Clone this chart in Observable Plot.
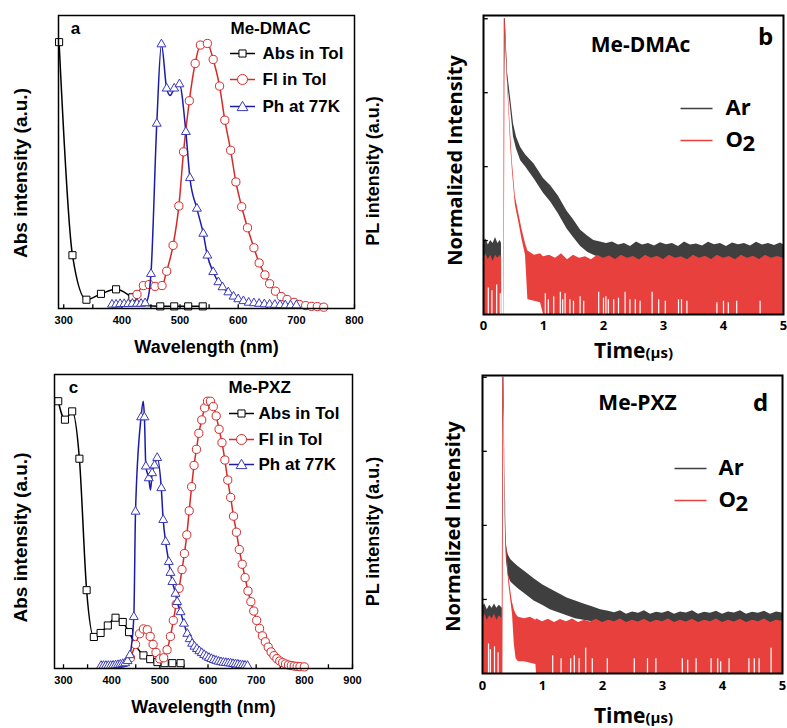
<!DOCTYPE html>
<html><head><meta charset="utf-8">
<script src="https://cdn.jsdelivr.net/npm/d3@7"></script>
<script src="https://cdn.jsdelivr.net/npm/@observablehq/plot@0.6"></script>
<style>
body{margin:0;background:#fff}
#fig{position:relative;width:787px;height:728px;overflow:hidden;background:#fff}
#fig svg{position:absolute}
</style>
</head><body><div id="fig"></div>
<script>
// ---------- Panel a (Me-DMAC) spectra: [nm, intensity, marker? (0 = line only)]
const absA = [[292,1.0],[315,0.2],[339,0.033],[364,0.055],[390,0.072],[418,0.042],[440,0.012,0],[466,0.008],[490,0.008],[514,0.008],[539,0.008]];
const flA = [[426,0.053],[437,0.086],[447,0.09],[457,0.083],[469,0.086],[477,0.14],[488,0.237],[498,0.385],[506,0.588],[516,0.78],[526,0.92],[535,0.989],[547,0.995],[557,0.935],[568,0.835],[577,0.707],[587,0.594],[596,0.475],[606,0.382],[616,0.303],[627,0.228],[636,0.171],[646,0.126],[654,0.093],[664,0.065],[674,0.045],[684,0.034],[696,0.023],[705,0.015],[716,0.011],[726,0.008],[736,0.007],[747,0.005]];
const phA = [[383,0.015],[390,0.015],[397,0.017],[404,0.017],[411,0.017],[418,0.018],[426,0.018],[433,0.018],[440,0.02],[445,0.04,0],[450,0.13],[460,0.694],[468,0.992],[477,0.826],[483,0.8,0],[490,0.826],[499,0.842],[510,0.663],[517,0.49],[529,0.375],[540,0.281],[547,0.199],[557,0.137],[566,0.099],[573,0.08],[583,0.061],[592,0.045],[600,0.035],[609,0.028],[618,0.022],[627,0.02],[636,0.018],[645,0.016],[654,0.015],[663,0.014],[672,0.013],[681,0.012],[690,0.012],[700,0.012]];

// ---------- Panel c (Me-PXZ) spectra
const absC = [[289,1.0],[303,0.931],[318,0.962],[333,0.785],[348,0.293],[363,0.118],[377,0.133],[392,0.161],[408,0.19],[423,0.174],[436,0.136],[452,0.08,0],[466,0.049],[480,0.035],[495,0.024],[510,0.02],[526,0.02],[543,0.02]];
const flC = [[439,0.04],[449.5,0.09],[458,0.13],[466,0.148],[474,0.145],[480,0.12],[486,0.09],[492,0.06],[500,0.036],[508,0.04],[515,0.07],[522,0.12],[528,0.18],[534,0.24],[540,0.3],[546,0.37],[551,0.43],[556,0.5],[561,0.59],[566,0.68],[571,0.76],[576,0.82],[581,0.88],[587,0.93],[593,0.975],[599,1.0],[605,1.0],[611,0.98],[617,0.945],[623,0.895],[629,0.845],[635,0.78],[641,0.705],[647,0.64],[653,0.57],[659,0.51],[665,0.445],[671,0.39],[677,0.34],[683,0.29],[689,0.25],[695,0.215],[701,0.18],[707,0.15],[713,0.122],[719,0.1],[725,0.08],[731,0.062],[737,0.048],[743,0.037],[749,0.028],[755,0.022],[761,0.017],[767,0.013],[773,0.011],[779,0.009],[785,0.008],[791,0.007],[800,0.006]];
const phC = [[378,0.01],[383,0.01],[388,0.01],[393,0.01],[398,0.01],[403,0.011],[408,0.012],[413,0.013],[418,0.015],[423,0.017],[428,0.02],[433,0.028],[438,0.05],[446,0.193],[449.5,0.587],[461,0.94],[465.5,1.0,0],[468,0.94],[471,0.756],[477,0.712],[480.6,0.668,0],[484,0.731],[489,0.76],[494.5,0.788],[503,0.675],[507,0.556],[512,0.474],[518.6,0.399],[522,0.358],[526,0.324],[532.5,0.28],[536,0.249],[543,0.211],[550,0.168],[557,0.13],[562,0.11],[567,0.093],[572,0.082],[577,0.073],[582,0.065],[587,0.058],[592,0.051],[597,0.045],[602,0.04],[607,0.036],[612,0.032],[617,0.029],[622,0.026],[627,0.024],[632,0.022],[637,0.021],[642,0.02],[647,0.019],[652,0.017],[657,0.016],[662,0.015],[667,0.013],[672,0.012],[677,0.011],[682,0.01]];

// ---------- Panel b (Me-DMAc) decay envelopes: [time µs, low, high]
const arB = [[0,0.17,0.245],[0.04,0.17,0.255],[0.08,0.17,0.235],[0.12,0.17,0.25],[0.16,0.17,0.24],[0.2,0.17,0.26],[0.24,0.17,0.24],[0.28,0.17,0.25],[0.3,0.17,0.24],[0.305,0,0],[0.34,0,0],[0.35,0.8,1.0],[0.365,0.96,1.0],[0.38,0.87,0.91],[0.4,0.79,0.82],[0.42,0.75,0.785],[0.45,0.7,0.735],[0.5,0.6,0.645],[0.55,0.56,0.6],[0.62,0.52,0.565],[0.7,0.5,0.54],[0.84,0.46,0.51],[1.0,0.41,0.46],[1.12,0.38,0.435],[1.25,0.34,0.4],[1.39,0.29,0.35],[1.5,0.26,0.32],[1.62,0.23,0.285],[1.74,0.21,0.265],[1.84,0.2,0.25],[1.95,0.19,0.245],[2.05,0.185,0.24],[2.15,0.18,0.245],[2.25,0.18,0.235],[2.35,0.18,0.24],[2.45,0.18,0.23],[2.55,0.18,0.245],[2.65,0.18,0.235],[2.75,0.18,0.24],[2.85,0.18,0.232],[2.95,0.18,0.243],[3.05,0.18,0.236],[3.15,0.18,0.24],[3.25,0.18,0.23],[3.35,0.18,0.245],[3.45,0.18,0.235],[3.55,0.18,0.238],[3.65,0.18,0.232],[3.75,0.18,0.244],[3.85,0.18,0.236],[3.95,0.18,0.24],[4.05,0.18,0.23],[4.15,0.18,0.242],[4.25,0.18,0.236],[4.35,0.18,0.24],[4.45,0.18,0.232],[4.55,0.18,0.244],[4.65,0.18,0.235],[4.75,0.18,0.24],[4.85,0.18,0.233],[4.95,0.18,0.242],[5.0,0.18,0.236]];
const o2B = [[0,0,0.19],[0.04,0,0.205],[0.08,0,0.185],[0.12,0,0.2],[0.16,0,0.18],[0.2,0,0.2],[0.24,0,0.19],[0.28,0,0.2],[0.3,0,0.19],[0.305,0,0],[0.34,0,0],[0.345,0,1.0],[0.36,0.96,1.0],[0.38,0.88,0.92],[0.4,0.78,0.81],[0.42,0.7,0.73],[0.45,0.58,0.62],[0.48,0.49,0.52],[0.53,0.37,0.4],[0.59,0.31,0.34],[0.64,0.255,0.29],[0.7,0.2,0.24],[0.74,0.05,0.215],[0.85,0.045,0.2],[0.95,0.04,0.205],[1.0,0,0.195],[1.1,0,0.2],[1.2,0,0.19],[1.3,0,0.205],[1.4,0,0.185],[1.5,0,0.2],[1.6,0,0.19],[1.7,0,0.195],[1.8,0,0.185],[1.9,0,0.2],[2.0,0,0.19],[2.1,0,0.198],[2.2,0,0.186],[2.3,0,0.2],[2.4,0,0.19],[2.5,0,0.196],[2.6,0,0.184],[2.7,0,0.2],[2.8,0,0.19],[2.9,0,0.197],[3.0,0,0.186],[3.1,0,0.2],[3.2,0,0.19],[3.3,0,0.195],[3.4,0,0.185],[3.5,0,0.2],[3.6,0,0.19],[3.7,0,0.197],[3.8,0,0.186],[3.9,0,0.2],[4.0,0,0.19],[4.1,0,0.196],[4.2,0,0.185],[4.3,0,0.2],[4.4,0,0.19],[4.5,0,0.197],[4.6,0,0.186],[4.7,0,0.2],[4.8,0,0.19],[4.9,0,0.196],[5.0,0,0.19]];
const gapsB = [[0.08,0.09],[0.14,0.08],[0.22,0.1],[0.28,0.07],[1.03,0.07],[1.08,0.05],[1.17,0.06],[1.28,0.075],[1.32,0.05],[1.36,0.07],[1.44,0.05],[1.5,0.045],[1.61,0.06],[1.67,0.045],[1.92,0.075],[2.0,0.055],[2.04,0.06],[2.08,0.05],[2.17,0.05],[2.25,0.055],[2.36,0.075],[2.44,0.05],[2.53,0.05],[2.61,0.045],[2.81,0.075],[2.92,0.05],[3.03,0.045],[3.25,0.05],[3.3,0.05],[3.39,0.045],[3.89,0.04],[4.0,0.045],[4.08,0.04],[4.22,0.045],[4.61,0.045]];

// ---------- Panel d (Me-PXZ) decay envelopes
const arD = [[0,0.16,0.225],[0.04,0.16,0.235],[0.08,0.16,0.215],[0.12,0.16,0.23],[0.16,0.16,0.22],[0.2,0.16,0.235],[0.24,0.16,0.22],[0.28,0.16,0.23],[0.33,0.16,0.22],[0.34,0.8,1.0],[0.356,0.9,1.0],[0.37,0.6,0.68],[0.385,0.45,0.52],[0.4,0.38,0.43],[0.43,0.33,0.4],[0.47,0.31,0.385],[0.52,0.3,0.375],[0.6,0.285,0.36],[0.7,0.27,0.345],[0.86,0.245,0.32],[1.0,0.23,0.3],[1.13,0.215,0.285],[1.27,0.205,0.27],[1.41,0.195,0.255],[1.55,0.185,0.245],[1.69,0.18,0.235],[1.83,0.175,0.225],[1.97,0.17,0.215],[2.1,0.165,0.21],[2.2,0.165,0.205],[2.3,0.165,0.212],[2.4,0.165,0.2],[2.5,0.165,0.208],[2.6,0.165,0.203],[2.7,0.165,0.212],[2.8,0.165,0.2],[2.9,0.165,0.207],[3.0,0.165,0.203],[3.1,0.165,0.21],[3.2,0.165,0.2],[3.3,0.165,0.208],[3.4,0.165,0.204],[3.5,0.165,0.212],[3.6,0.165,0.2],[3.7,0.165,0.207],[3.8,0.165,0.203],[3.9,0.165,0.21],[4.0,0.165,0.2],[4.1,0.165,0.208],[4.2,0.165,0.204],[4.3,0.165,0.212],[4.4,0.165,0.2],[4.5,0.165,0.207],[4.6,0.165,0.203],[4.7,0.165,0.21],[4.8,0.165,0.2],[4.9,0.165,0.208],[5.0,0.165,0.204]];
const o2D = [[0,0,0.185],[0.04,0,0.2],[0.08,0,0.18],[0.12,0,0.195],[0.16,0,0.185],[0.2,0,0.2],[0.24,0,0.18],[0.28,0,0.195],[0.33,0,0.185],[0.34,0,1.0],[0.355,0.95,1.0],[0.365,0.78,0.82],[0.375,0.66,0.7],[0.39,0.5,0.54],[0.4,0.41,0.44],[0.42,0.35,0.38],[0.44,0.3,0.33],[0.47,0.25,0.28],[0.5,0.2,0.24],[0.53,0.1,0.215],[0.56,0.05,0.2],[0.6,0.04,0.19],[0.7,0.04,0.185],[0.8,0.035,0.19],[0.89,0.03,0.18],[0.9,0,0.185],[1.0,0,0.175],[1.1,0,0.183],[1.2,0,0.172],[1.3,0,0.182],[1.4,0,0.175],[1.5,0,0.184],[1.6,0,0.172],[1.7,0,0.18],[1.8,0,0.174],[1.9,0,0.183],[2.0,0,0.172],[2.1,0,0.18],[2.2,0,0.175],[2.3,0,0.184],[2.4,0,0.172],[2.5,0,0.18],[2.6,0,0.174],[2.7,0,0.183],[2.8,0,0.172],[2.9,0,0.18],[3.0,0,0.175],[3.1,0,0.184],[3.2,0,0.172],[3.3,0,0.18],[3.4,0,0.174],[3.5,0,0.183],[3.6,0,0.172],[3.7,0,0.18],[3.8,0,0.175],[3.9,0,0.184],[4.0,0,0.172],[4.1,0,0.18],[4.2,0,0.174],[4.3,0,0.183],[4.4,0,0.172],[4.5,0,0.18],[4.6,0,0.175],[4.7,0,0.184],[4.8,0,0.172],[4.9,0,0.18],[5.0,0,0.176]];
const gapsD = [[0.1,0.1],[0.13,0.08],[0.2,0.09],[0.26,0.07],[1.17,0.06],[1.31,0.05],[1.47,0.05],[1.53,0.06],[1.61,0.05],[1.72,0.085],[1.83,0.05],[2.08,0.05],[2.53,0.05],[2.75,0.05],[2.89,0.05],[3.33,0.05],[3.42,0.045],[3.56,0.05],[3.81,0.05],[3.92,0.05],[3.97,0.04],[4.11,0.05],[4.44,0.05],[4.53,0.05],[4.61,0.05],[4.81,0.085]];

// ---------- tick values and labels
const ticksA = [300,400,500,600,700,800];
const minorA = [300,350,400,450,500,550,600,650,700,750,800];
const ticksC = [300,400,500,600,700,800,900];
const minorC = [300,350,400,450,500,550,600,650,700,750,800,850,900];
const timeTicks = [0,1,2,3,4,5];
const intensityTicks = [0.25,0.5,0.75,1.0];
const legendSpectra = ["Abs in Tol","Fl in Tol","Ph at 77K"];
const legendDecay = ["Ar","O","2"];

// ---------- styling
const fontA = "'Liberation Sans', Arial, sans-serif";
const fontB = "'Open Sans', sans-serif";
const RED = "#d62a2a", BLUE = "#1c1ca8", TRI = "#3a3ab8";
const GRAY = "#3f3f3f", ORED = "#e8403c";
const hline = (h) => ({draw(ctx) { ctx.moveTo(-h, 0); ctx.lineTo(h, 0); }});
const mk = d => d[2] !== 0;
const X = d => d[0], Y = d => d[1];

function spectrumPanel(o) {
  const L = o.leg;
  return Plot.plot({
    width: o.width, height: o.height,
    marginLeft: o.m[0], marginRight: o.m[1], marginTop: o.m[2], marginBottom: o.m[3],
    x: {domain: o.xDomain, axis: null},
    y: {domain: [0, 1.1], axis: null},
    style: {fontFamily: fontA, background: "transparent", overflow: "visible", color: "black"},
    marks: [
      Plot.ruleX(o.minor, {x: d => d, y1: 0, y2: 0.014, stroke: "black", strokeWidth: 1.3}),
      Plot.line(o.abs, {x: X, y: Y, stroke: "black", strokeWidth: 1.5, curve: "monotone-x"}),
      Plot.dot(o.abs.filter(mk), {x: X, y: Y, symbol: "square", r: 4, stroke: "black", fill: "white", strokeWidth: 1}),
      Plot.line(o.fl, {x: X, y: Y, stroke: RED, strokeWidth: 1.5, curve: "monotone-x"}),
      Plot.dot(o.fl.filter(mk), {x: X, y: Y, symbol: "circle", r: 4.1, stroke: RED, fill: "white", strokeWidth: 1}),
      Plot.line(o.ph, {x: X, y: Y, stroke: BLUE, strokeWidth: 1.5, curve: "monotone-x"}),
      Plot.dot(o.ph.filter(mk), {x: X, y: Y, symbol: "triangle", r: 3.3, stroke: TRI, fill: "white", strokeWidth: 1}),
      Plot.frame({stroke: "black", strokeWidth: 1.5}),
      Plot.text(o.ticks, {x: d => d, text: d => String(d), frameAnchor: "bottom", dy: 12, textAnchor: "middle", lineAnchor: "middle", fontSize: 11, fontWeight: "bold"}),
      Plot.text(["Wavelength (nm)"], {text: d => d, frameAnchor: "bottom", dy: 39, textAnchor: "middle", lineAnchor: "middle", fontSize: 18, fontWeight: "bold"}),
      Plot.text(["Abs intensity (a.u.)"], {text: d => d, frameAnchor: "left", dx: o.absLab[0], dy: o.absLab[1], rotate: -90, textAnchor: "middle", lineAnchor: "middle", fontSize: 19, fontWeight: "bold"}),
      Plot.text(["PL intensity (a.u.)"], {text: d => d, frameAnchor: "right", dx: o.plLab[0], dy: o.plLab[1], rotate: -90, textAnchor: "middle", lineAnchor: "middle", fontSize: 18, fontWeight: "bold"}),
      Plot.text([o.letter], {text: d => d, frameAnchor: "top-left", dx: o.letterPos[0], dy: o.letterPos[1], textAnchor: "middle", lineAnchor: "middle", fontSize: 17, fontWeight: "bold"}),
      Plot.text([o.name], {text: d => d, frameAnchor: "top-left", dx: o.namePos[0], dy: o.namePos[1], textAnchor: "start", lineAnchor: "middle", fontSize: 17, fontWeight: "bold"}),
      // legend
      Plot.dot([0], {frameAnchor: "top-left", dx: L.sx, dy: L.rows[0], symbol: hline(12.5), stroke: "black", fill: "none", strokeWidth: 1.5}),
      Plot.dot([0], {frameAnchor: "top-left", dx: L.sx, dy: L.rows[0], symbol: "square", r: 4, stroke: "black", fill: "white", strokeWidth: 1}),
      Plot.dot([0], {frameAnchor: "top-left", dx: L.sx, dy: L.rows[1], symbol: hline(12.5), stroke: RED, fill: "none", strokeWidth: 1.5}),
      Plot.dot([0], {frameAnchor: "top-left", dx: L.sx, dy: L.rows[1], symbol: "circle", r: 5, stroke: RED, fill: "white", strokeWidth: 1}),
      Plot.dot([0], {frameAnchor: "top-left", dx: L.sx, dy: L.rows[2], symbol: hline(12.5), stroke: BLUE, fill: "none", strokeWidth: 1.5}),
      Plot.dot([0], {frameAnchor: "top-left", dx: L.sx, dy: L.rows[2] + 1, symbol: "triangle", r: 4, stroke: TRI, fill: "white", strokeWidth: 1})
    ].concat(legendSpectra.map((s, i) =>
      Plot.text([s], {text: d => d, frameAnchor: "top-left", dx: L.tx, dy: L.rows[i], textAnchor: "start", lineAnchor: "middle", fontSize: 17, fontWeight: "bold"})
    ))
  });
}

function decayPanel(o) {
  return Plot.plot({
    width: 387, height: o.height,
    marginLeft: o.m[0], marginRight: o.m[1], marginTop: o.m[2], marginBottom: o.m[3],
    x: {domain: [0, 5], axis: null},
    y: {domain: [0, o.ytop], axis: null},
    style: {fontFamily: fontB, background: "transparent", overflow: "visible", color: "black"},
    marks: [
      Plot.areaY(o.ar, {x: d => d[0], y1: d => d[1], y2: d => d[2], fill: GRAY}),
      Plot.areaY(o.o2, {x: d => d[0], y1: d => d[1], y2: d => d[2], fill: ORED}),
      Plot.ruleX(o.gaps, {x: d => d[0], y1: 0, y2: d => d[1], stroke: "white", strokeWidth: 1.2}),
      Plot.ruleY(intensityTicks, {y: d => d, x1: 0, x2: 0.08, stroke: "black", strokeWidth: 1.3}),
      Plot.frame({stroke: "black", strokeWidth: 2}),
      Plot.text(timeTicks, {x: d => d, text: d => String(d), frameAnchor: "bottom", dy: o.tickDy, textAnchor: "middle", lineAnchor: "middle", fontSize: 13, fontWeight: "bold"}),
      Plot.text(["Time"], {text: d => d, frameAnchor: "bottom", dx: o.timeDx, dy: o.timeDy, textAnchor: "end", lineAnchor: "bottom", fontSize: 21, fontWeight: "bold"}),
      Plot.text(["(μs)"], {text: d => d, frameAnchor: "bottom", dx: o.timeDx, dy: o.timeDy, textAnchor: "start", lineAnchor: "bottom", fontSize: 15, fontWeight: "bold"}),
      Plot.text(["Normalized Intensity"], {text: d => d, frameAnchor: "left", dx: o.ylab[0], dy: o.ylab[1], rotate: -90, textAnchor: "middle", lineAnchor: "middle", fontSize: 20, fontWeight: "bold"}),
      Plot.text([o.name], {text: d => d, frameAnchor: "top", dx: o.namePos[0], dy: o.namePos[1], textAnchor: "middle", lineAnchor: "middle", fontSize: 21, fontWeight: "bold"}),
      Plot.text([o.letter], {text: d => d, frameAnchor: "top-left", dx: o.letterPos[0], dy: o.letterPos[1], textAnchor: "middle", lineAnchor: "middle", fontSize: 24, fontWeight: "bold"}),
      Plot.dot([0], {frameAnchor: "top-left", dx: o.leg.lx, dy: o.leg.rows[0], symbol: hline(16), stroke: GRAY, fill: "none", strokeWidth: 1.5}),
      Plot.dot([0], {frameAnchor: "top-left", dx: o.leg.lx, dy: o.leg.rows[1], symbol: hline(16), stroke: ORED, fill: "none", strokeWidth: 1.5}),
      Plot.text([legendDecay[0]], {text: d => d, frameAnchor: "top-left", dx: o.leg.tx, dy: o.leg.rows[0] - 1, textAnchor: "start", lineAnchor: "middle", fontSize: 22, fontWeight: "bold"}),
      Plot.text([legendDecay[1]], {text: d => d, frameAnchor: "top-left", dx: o.leg.tx, dy: o.leg.rows[1] - 1, textAnchor: "start", lineAnchor: "middle", fontSize: 22, fontWeight: "bold"}),
      Plot.text([legendDecay[2]], {text: d => d, frameAnchor: "top-left", dx: o.leg.tx + 17, dy: o.leg.rows[1] + 3, textAnchor: "start", lineAnchor: "middle", fontSize: 22, fontWeight: "bold"})
    ]
  });
}

const fig = document.getElementById("fig");
function place(svg, left, top) { svg.style.left = left + "px"; svg.style.top = top + "px"; fig.appendChild(svg); }

place(spectrumPanel({
  width: 400, height: 360, m: [58, 46, 15, 52], xDomain: [291, 800],
  abs: absA, fl: flA, ph: phA, ticks: ticksA, minor: minorA,
  absLab: [-38, 11], plLab: [19, 9], letter: "a", letterPos: [17, 13], name: "Me-DMAC", namePos: [172, 13],
  leg: {sx: 184, tx: 204, rows: [38, 64, 91]}
}), 0, 0);

place(spectrumPanel({
  width: 400, height: 368, m: [54, 48, 14, 60], xDomain: [281.3, 900],
  abs: absC, fl: flC, ph: phC, ticks: ticksC, minor: minorC,
  absLab: [-34, 16], plLab: [21, 10], letter: "c", letterPos: [19, 13], name: "Me-PXZ", namePos: [174, 13],
  leg: {sx: 187, tx: 204, rows: [39, 65, 90]}
}), 0, 360);

place(decayPanel({
  height: 360, m: [83, 4, 15, 46], ytop: 1.011, ar: arB, o2: o2B, gaps: gapsB,
  tickDy: 11, timeDx: 12, timeDy: 43, ylab: [-28, -4.5],
  name: "Me-DMAc", namePos: [7, 30], letter: "b", letterPos: [282, 22],
  leg: {lx: 213, tx: 242, rows: [93, 125]}
}), 400, 0);

place(decayPanel({
  height: 368, m: [82, 5, 15, 55], ytop: 1.006, ar: arD, o2: o2D, gaps: gapsD,
  tickDy: 12, timeDx: 13, timeDy: 49, ylab: [-29, 2],
  name: "Me-PXZ", namePos: [5, 28], letter: "d", letterPos: [278, 28],
  leg: {lx: 208, tx: 236, rows: [93, 125]}
}), 400, 360);
</script></body></html>
